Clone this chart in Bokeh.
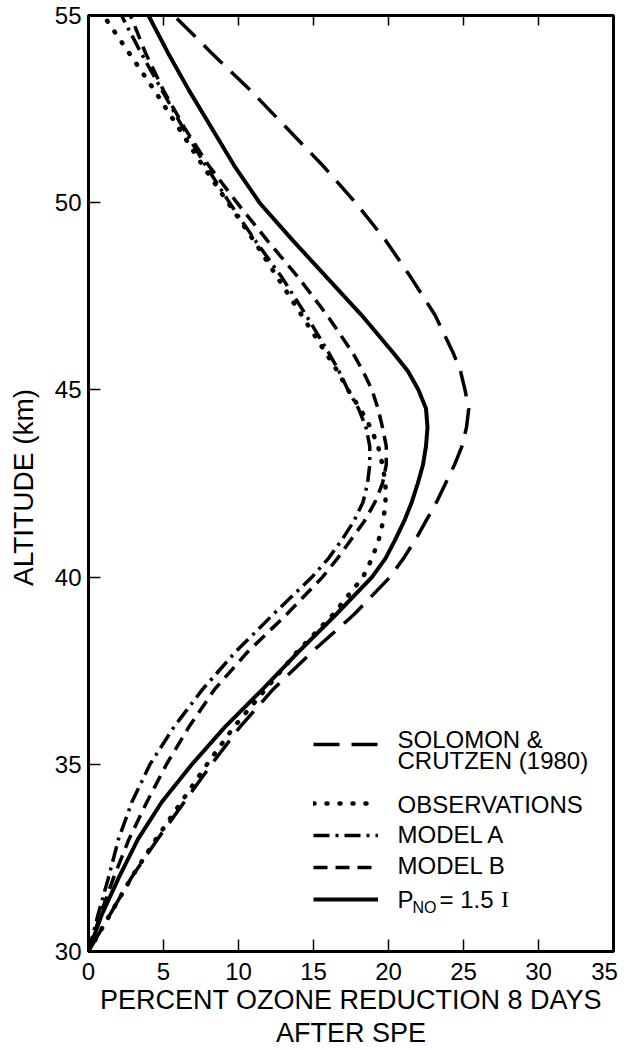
from bokeh.plotting import figure
from bokeh.models import (LinearAxis, Legend, LegendItem, Label, FixedTicker, Range1d,
                          CustomJSTickFormatter)
from bokeh.embed import file_html
from bokeh.resources import INLINE

# ---- data ----
altitude = [30, 31, 32, 33, 34, 35, 36, 37, 38, 39,
            40, 40.5, 41, 41.5, 42, 42.5, 43, 43.5, 44, 44.5, 45, 45.5, 46,
            47, 48, 49, 50, 51, 52, 53, 54, 55]
solomon_crutzen = [0.0, 1.45, 2.9, 4.6, 6.4, 8.2, 10.1, 12.3, 14.9, 17.7,
                   20.1, 21.0, 21.8, 22.5, 23.2, 23.8, 24.4, 24.9, 25.2, 25.35, 25.1, 24.8, 24.3,
                   23.1, 21.5, 19.8, 17.8, 15.6, 13.2, 10.8, 8.2, 5.7]
observations = [0.0, 1.45, 2.9, 4.5, 6.2, 7.9, 9.7, 11.8, 13.9, 16.3,
                18.3, 18.9, 19.35, 19.65, 19.8, 19.8, 19.6, 19.3, 18.8, 18.1, 17.3, 16.6, 15.8,
                14.2, 12.6, 11.0, 9.3, 7.6, 6.0, 4.4, 2.7, 1.0]
model_a = [0.0, 0.65, 1.35, 2.0, 2.9, 4.1, 5.7, 7.6, 9.8, 12.3,
           14.9, 16.0, 16.9, 17.7, 18.3, 18.6, 18.75, 18.75, 18.5, 18.0, 17.3, 16.7, 16.0,
           14.5, 12.9, 11.1, 9.4, 7.8, 6.3, 4.9, 3.5, 2.2]
model_b = [0.0, 0.8, 1.7, 2.7, 3.9, 5.2, 6.7, 8.4, 10.6, 13.2,
           15.6, 16.6, 17.5, 18.4, 19.1, 19.6, 19.85, 19.85, 19.6, 19.3, 18.9, 18.3, 17.6,
           15.9, 14.0, 11.9, 9.9, 8.0, 6.4, 5.0, 3.8, 2.8]
p_no_15 = [0.0, 0.9, 2.05, 3.3, 4.9, 6.9, 9.1, 11.6, 14.0, 16.5,
           18.9, 19.8, 20.45, 21.05, 21.55, 21.95, 22.3, 22.5, 22.6, 22.5, 22.0, 21.3, 20.3,
           18.2, 15.9, 13.6, 11.4, 9.7, 8.2, 6.7, 5.3, 4.0]

x_ticks = [0, 5, 10, 15, 20, 25, 30, 35]
y_ticks = [30, 35, 40, 45, 50, 55]
top_ticks = [5, 10, 15, 20, 25, 30]

FONT = "Liberation Sans"
LABEL_SHIFT = 0.6   # the "35" label sits slightly left of the plot corner in the reference

p = figure(width=623, height=1050,
           x_range=Range1d(0, 35), y_range=Range1d(30, 55),
           output_backend="svg", toolbar_location=None,
           min_border_left=88, min_border_right=10, min_border_top=15,
           min_border_bottom=0)
p.background_fill_color = "white"
p.border_fill_color = "white"
p.outline_line_color = "black"
p.outline_line_width = 3
p.grid.visible = False

# bottom axis: line + inward ticks (labels drawn by the next axis)
xa = p.xaxis[0]
xa.ticker = FixedTicker(ticks=x_ticks[:-1])
xa.formatter = CustomJSTickFormatter(code="return '';")
xa.major_tick_in = 12
xa.major_tick_out = 0
xa.minor_tick_line_color = None
xa.axis_line_width = 3
xa.major_tick_line_width = 1.5
xa.major_label_standoff = 0
xa.major_label_text_font_size = "1px"

# bottom labels axis (uses a slightly shifted range so "35" stays inside the page)
p.extra_x_ranges = {"lab": Range1d(LABEL_SHIFT, 35 + LABEL_SHIFT)}
lab_ticks = [t + LABEL_SHIFT for t in x_ticks[:-1]] + [x_ticks[-1]]
la = LinearAxis(x_range_name="lab", ticker=FixedTicker(ticks=lab_ticks))
la.formatter = CustomJSTickFormatter(
    code="return String(tick > 34.99 ? 35 : Math.round(tick - %s));" % LABEL_SHIFT)
la.axis_line_color = None
la.major_tick_line_color = None
la.minor_tick_line_color = None
la.major_tick_in = 0
la.major_tick_out = 0
la.major_label_standoff = 11
la.major_label_text_font = FONT
la.major_label_text_font_size = "24px"
la.major_label_text_color = "black"
la.axis_label = "PERCENT OZONE REDUCTION 8 DAYS\nAFTER SPE"
la.axis_label_text_font = FONT
la.axis_label_text_font_size = "27px"
la.axis_label_text_font_style = "normal"
la.axis_label_text_line_height = 1.1
la.axis_label_text_color = "black"
la.axis_label_standoff = 2
p.add_layout(la, "below")

# y axis
ya = p.yaxis[0]
ya.ticker = FixedTicker(ticks=y_ticks)
ya.major_tick_in = 12
ya.major_tick_out = 0
ya.minor_tick_line_color = None
ya.axis_line_width = 3
ya.major_tick_line_width = 1.5
ya.major_label_standoff = 7
ya.major_label_text_font = FONT
ya.major_label_text_font_size = "24px"
ya.major_label_text_color = "black"
ya.axis_label = "ALTITUDE  (km)"
ya.axis_label_text_font = FONT
ya.axis_label_text_font_size = "28px"
ya.axis_label_text_font_style = "normal"
ya.axis_label_text_color = "black"
ya.axis_label_standoff = 13

# top axis: inward ticks only
ta = LinearAxis(ticker=FixedTicker(ticks=top_ticks))
ta.formatter = CustomJSTickFormatter(code="return '';")
ta.major_tick_in = 10
ta.major_tick_out = 0
ta.minor_tick_line_color = None
ta.axis_line_width = 3
ta.major_tick_line_width = 1.5
ta.major_label_text_font_size = "1px"
ta.major_label_standoff = 0
p.add_layout(ta, "above")

r_sc = p.line(solomon_crutzen, altitude, line_color="black", line_width=3.5,
              line_dash="26 12", line_join="round")
r_obs = p.line(observations, altitude, line_color="black", line_width=4.5,
               line_dash="1 12", line_cap="round", line_join="round")
r_a = p.line(model_a, altitude, line_color="black", line_width=3.5,
             line_dash="16 6 3 6", line_join="round")
r_b = p.line(model_b, altitude, line_color="black", line_width=3.5,
             line_dash="14 8", line_join="round")
r_p = p.line(p_no_15, altitude, line_color="black", line_width=4, line_join="round")

def make_legend(items, loc):
    lg = Legend(items=items, location=loc, orientation="vertical")
    lg.glyph_width = 65
    lg.glyph_height = 24
    lg.label_height = 24
    lg.label_width = 1
    lg.label_standoff = 0
    lg.label_text_font_size = "1px"
    lg.spacing = 8
    lg.padding = 0
    lg.margin = 0
    lg.border_line_color = None
    lg.background_fill_alpha = 0
    return lg

leg1 = make_legend([LegendItem(label=" ", renderers=[r_sc])], (225, 195))
leg2 = make_legend([LegendItem(label=" ", renderers=[r_obs]),
                    LegendItem(label=" ", renderers=[r_a]),
                    LegendItem(label=" ", renderers=[r_b]),
                    LegendItem(label=" ", renderers=[r_p])], (225, 40))
p.add_layout(leg1, "center")
p.add_layout(leg2, "center")

def txt(x, y, s, size="24px", font=FONT):
    p.add_layout(Label(x=x, y=y, text=s, text_font=font, text_font_size=size,
                       text_baseline="alphabetic", text_align="left", text_color="black"))

txt(20.6, 35.67, "SOLOMON &")
txt(20.6, 35.11, "CRUTZEN (1980)")
txt(20.6, 33.93, "OBSERVATIONS")
txt(20.6, 33.13, "MODEL A")
txt(20.6, 32.30, "MODEL B")
txt(20.6, 31.39, "P")
txt(21.6, 31.18, "NO", size="16px")
txt(23.4, 31.39, "= 1.5")
txt(27.5, 31.39, "I", font="Liberation Serif")

open("out.html", "w").write(file_html(p, INLINE))
